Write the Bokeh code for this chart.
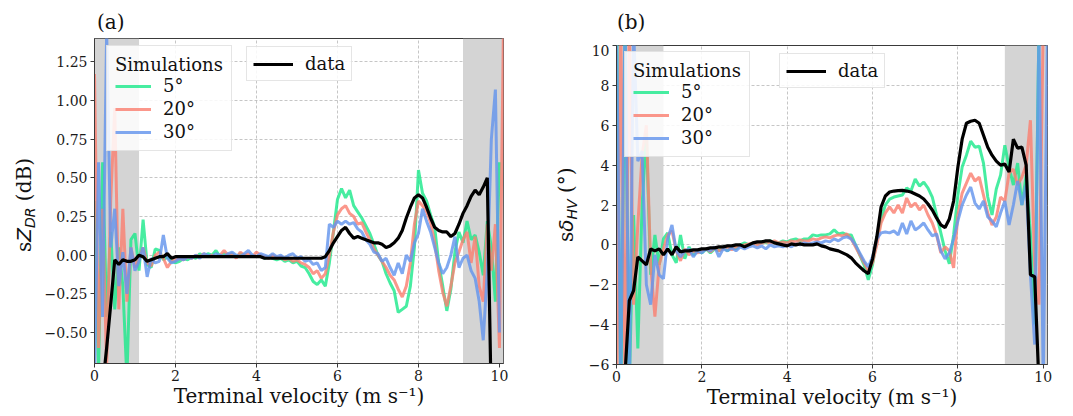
import numpy as np
from bokeh.plotting import figure
from bokeh.models import (BoxAnnotation, Legend, LegendItem, FixedTicker, Div,
                          CustomJSTickFormatter, Range1d, ColumnDataSource)
from bokeh.layouts import row, column
from bokeh.embed import file_html
from bokeh.resources import INLINE

nan = float("nan")

velocity = [
    0.0, 0.1, 0.2, 0.3, 0.4, 0.5, 0.6, 0.7, 0.8, 0.9,
    1.0, 1.1, 1.2, 1.3, 1.4, 1.5, 1.6, 1.7, 1.8, 1.9,
    2.0, 2.1, 2.2, 2.3, 2.4, 2.5, 2.6, 2.7, 2.8, 2.9,
    3.0, 3.1, 3.2, 3.3, 3.4, 3.5, 3.6, 3.7, 3.8, 3.9,
    4.0, 4.1, 4.2, 4.3, 4.4, 4.5, 4.6, 4.7, 4.8, 4.9,
    5.0, 5.1, 5.2, 5.3, 5.4, 5.5, 5.6, 5.7, 5.8, 5.9,
    6.0, 6.1, 6.2, 6.3, 6.4, 6.5, 6.6, 6.7, 6.8, 6.9,
    7.0, 7.1, 7.2, 7.3, 7.4, 7.5, 7.6, 7.7, 7.8, 7.9,
    8.0, 8.1, 8.2, 8.3, 8.4, 8.5, 8.6, 8.7, 8.8, 8.9,
    9.0, 9.1, 9.2, 9.3, 9.4, 9.5, 9.6, 9.7, 9.8, 9.9,
    10.0, 10.1]

# ---------------- panel (a): sZDR (dB) ----------------
zdr_data = [
    nan, nan, -0.85, -0.6, -0.32, -0.03, -0.06, -0.03, -0.04, -0.04,
    -0.03, 0.0, -0.01, -0.04, -0.03, -0.02, -0.01, -0.01, 0.01, -0.02,
    -0.01, -0.01, -0.01, -0.01, -0.01, -0.01, -0.01, -0.01, -0.01, -0.01,
    -0.01, -0.01, -0.01, -0.01, -0.01, -0.01, -0.01, -0.01, -0.01, -0.01,
    -0.01, -0.01, -0.02, -0.02, -0.02, -0.02, -0.02, -0.02, -0.02, -0.02,
    -0.02, -0.02, -0.02, -0.02, -0.02, -0.02, -0.02, -0.01, 0.03, 0.08,
    0.12, 0.16, 0.18, 0.14, 0.11, 0.12, 0.11, 0.10, 0.09, 0.08,
    0.08, 0.07, 0.05, 0.06, 0.08, 0.11, 0.16, 0.24, 0.31, 0.37,
    0.39, 0.37, 0.31, 0.24, 0.18, 0.16, 0.15, 0.15, 0.12, 0.14,
    0.20, 0.27, 0.32, 0.38, 0.42, 0.39, 0.44, 0.50, -1.0, nan,
    nan, nan]

zdr_5 = [
    0.35, -0.75, 0.6, -0.4, 0.15, -0.35, 0.05, -0.2, -0.8, 0.1,
    0.14, -0.1, 0.23, -0.06, -0.08, 0.04, 0.03, -0.03, -0.01, -0.04,
    -0.05, -0.04, -0.02, -0.03, -0.01, -0.02, 0.01, -0.01, 0.01, 0.0,
    0.03, -0.01, 0.01, 0.0, 0.01, -0.01, 0.01, 0.0, -0.01, 0.0,
    -0.01, 0.0, -0.02, -0.01, -0.02, -0.03, -0.02, -0.04, -0.03, -0.05,
    -0.04, -0.07, -0.08, -0.12, -0.17, -0.19, -0.16, -0.2, -0.05, 0.15,
    0.36, 0.43, 0.37, 0.42, 0.32, 0.28, 0.24, 0.19, 0.14, 0.07,
    0.0, -0.04, -0.12, -0.18, -0.23, -0.37, -0.35, -0.33, -0.2, 0.05,
    0.55, 0.4, 0.35, 0.26, 0.18, -0.05, -0.2, -0.36, -0.22, 0.02,
    0.15, 0.08, 0.22, 0.1, 0.13, 0.02, -0.13, 0.22, 0.05, -0.3,
    0.6, nan]

zdr_20 = [
    1.17, -0.6, 0.3, -0.72, 0.35, 0.95, -0.35, 0.3, -0.3, 0.05,
    -0.08, -0.02, 0.05, -0.05, -0.07, 0.0, 0.02, -0.02, -0.08, -0.04,
    -0.03, -0.02, -0.03, -0.01, -0.02, 0.0, -0.01, 0.01, -0.01, 0.0,
    -0.01, 0.0, 0.03, 0.0, 0.01, -0.02, 0.02, 0.0, 0.01, -0.01,
    0.02, 0.0, -0.01, -0.02, 0.0, -0.02, -0.01, -0.03, -0.02, -0.04,
    -0.03, -0.05, -0.06, -0.08, -0.12, -0.1, -0.15, -0.12, 0.0, 0.15,
    0.26, 0.3, 0.32, 0.27, 0.25, 0.2, 0.21, 0.15, 0.1, 0.04,
    0.0, -0.04, -0.08, -0.13, -0.16, -0.22, -0.27, -0.2, -0.05, 0.2,
    0.35, 0.32, 0.28, 0.21, 0.08, -0.1, -0.24, -0.33, -0.2, -0.05,
    0.02, 0.1, 0.15, -0.05, 0.12, -0.2, -0.3, 0.2, -0.1, 0.2,
    -0.6, 1.5]

zdr_30 = [
    -0.75, 0.6, -0.4, 1.45, 0.05, 0.3, -0.2, 0.02, -0.25, 0.05,
    -0.1, -0.04, 0.05, -0.14, -0.02, -0.05, -0.04, 0.13, -0.02, -0.05,
    -0.04, -0.02, -0.03, -0.01, -0.02, 0.0, -0.02, 0.01, 0.0, -0.01,
    0.01, 0.0, -0.01, 0.01, 0.02, 0.0, -0.01, 0.01, 0.03, 0.0,
    -0.01, 0.01, 0.0, -0.01, 0.01, -0.01, 0.0, -0.02, 0.0, 0.01,
    -0.02, -0.01, -0.04, -0.03, -0.06, -0.05, -0.1, -0.08, 0.2, 0.18,
    0.22, 0.2, 0.22, 0.2, 0.21, 0.17, 0.15, 0.1, 0.07, 0.02,
    0.01, -0.04, -0.02, -0.08, -0.13, -0.05, -0.12, 0.0, -0.04, 0.08,
    0.14, 0.3, 0.22, 0.15, 0.05, -0.05, -0.12, -0.08, 0.0, 0.12,
    -0.08, -0.02, 0.0, -0.1, -0.15, -0.3, -0.55, -0.1, 0.75, 1.07,
    -0.5, nan]

# ---------------- panel (b): s delta_HV (deg) ----------------
dhv_data = [
    nan, nan, -6.5, -2.8, -2.3, -0.6, -0.8, -1.0, -0.2, -0.3,
    -0.2, -0.5, -0.2, -0.5, -0.1, -0.35, -0.3, -0.3, -0.25, -0.25,
    -0.2, -0.2, -0.15, -0.15, -0.1, -0.1, -0.05, -0.05, 0.0, 0.0,
    -0.1, 0.0, 0.1, 0.15, 0.15, 0.2, 0.2, 0.1, 0.05, 0.0,
    -0.05, 0.05, 0.0, 0.05, 0.0, 0.0, 0.0, 0.05, -0.05, -0.1,
    -0.2, -0.25, -0.3, -0.4, -0.5, -0.65, -0.9, -1.1, -1.3, -1.45,
    -0.7, 0.4, 1.9, 2.45, 2.65, 2.7, 2.72, 2.73, 2.7, 2.65,
    2.55, 2.45, 2.3, 2.05, 1.75, 1.35, 1.0, 0.87, 1.3, 2.2,
    3.9, 5.3, 6.1, 6.2, 6.25, 6.1, 5.5, 4.9, 4.5, 4.2,
    4.0, 4.05, 3.65, 5.3, 4.85, 4.9, 4.0, -1.5, -1.6, -7.0,
    nan, nan]

dhv_5 = [
    12.0, -8.0, 11.0, -7.0, 1.5, -5.2, 2.0, 5.6, -1.5, 0.5,
    -1.0, 0.3, 0.6, -0.5, -0.9, 0.5, -0.7, -0.1, -0.5, -0.3,
    -0.4, -0.2, -0.4, -0.2, -0.3, -0.1, -0.3, -0.1, -0.2, 0.0,
    0.1, 0.0, 0.1, 0.05, 0.15, 0.1, 0.2, 0.15, 0.1, 0.2,
    0.15, 0.25, 0.3, 0.2, 0.3, 0.3, 0.5, 0.45, 0.5, 0.5,
    0.55, 0.75, 0.55, 0.6, 0.5, 0.5, 0.0, -0.5, -1.0, -1.75,
    -1.0, 0.3, 1.3, 2.0, 2.3, 2.4, 2.45, 2.5, 2.85, 2.7,
    3.3, 2.95, 3.15, 2.85, 2.4, 1.5, 0.6, -0.3, -0.95, 0.5,
    2.5, 3.9, 4.5, 5.2, 4.9, 4.95, 4.1, 2.4, 1.5, 2.8,
    3.5, 5.0, 3.9, 3.0, 4.1, 2.0, 3.5, 0.5, -4.0, 11.0,
    12.0, nan]

dhv_20 = [
    -8.0, 11.0, -7.0, 11.0, -3.0, 1.0, 4.5, 6.0, -1.0, -3.6,
    -1.0, -0.2, 0.5, 0.7, -0.3, -0.8, -0.2, -0.5, -0.3, -0.4,
    -0.3, -0.2, -0.35, -0.15, -0.3, -0.2, -0.1, -0.25, -0.1, -0.05,
    0.0, 0.05, 0.1, 0.0, 0.1, 0.15, 0.1, 0.2, 0.1, 0.15,
    0.1, 0.2, 0.15, 0.25, 0.2, 0.2, 0.3, 0.25, 0.35, 0.4,
    0.35, 0.45, 0.5, 0.45, 0.55, 0.3, -0.1, -0.5, -0.9, -1.3,
    -0.9, 0.0, 1.1, 1.6, 1.9, 1.6, 2.0, 1.6, 2.35, 1.9,
    2.1, 1.75, 2.0, 1.5, 1.1, 0.5, -0.4, -0.1, -0.3, -1.15,
    1.5, 2.6, 3.1, 3.6, 3.2, 3.4, 2.5, 1.6, 1.0, 1.4,
    2.4, 2.2, 3.6, 3.8, 3.0, 3.4, 4.0, 6.25, -1.0, -3.0,
    11.0, nan]

dhv_30 = [
    11.0, -7.0, 12.0, -8.0, 11.0, 4.2, 4.7, -2.0, -3.0, -0.5,
    -1.5, -1.7, 0.3, 1.0, -0.3, -0.6, -0.3, -0.2, -0.6, -0.3,
    -0.4, -0.2, -0.3, -0.1, -0.6, -0.2, -0.3, -0.15, -0.3, -0.1,
    -0.2, -0.1, -0.05, -0.15, -0.05, -0.2, 0.0, -0.1, -0.05, -0.1,
    0.0, -0.1, 0.05, 0.0, 0.1, 0.05, 0.1, 0.15, 0.1, 0.2,
    0.15, 0.3, 0.2, 0.35, 0.4, 0.3, 0.0, -0.4, -0.8, -1.1,
    -0.6, 0.3, 0.6, 0.65, 0.6, 0.7, 0.5, 1.1, 0.55, 1.2,
    0.75, 0.9, 1.1, 0.75, 0.45, 0.55, -0.3, -0.7, -0.4, 0.3,
    1.2, 2.0, 2.5, 2.9, 2.1, 1.8, 2.2, 1.4, 1.2, 0.9,
    1.6, 2.2, 1.0, 2.0, 3.2, 2.0, 3.0, -1.5, -5.0, 11.0,
    -7.0, 11.0]

sim_labels = ["5°", "20°", "30°"]
sim_colors = ["#1fe98c", "#FA8072", "#6495ED"]
x_ticks = [0, 2, 4, 6, 8, 10]
zdr_ticks = [-0.5, -0.25, 0.0, 0.25, 0.5, 0.75, 1.0, 1.25]
dhv_ticks = [-6, -4, -2, 0, 2, 4, 6, 8, 10]
shade_spans = [(0.0, 1.1), (9.1, 10.1)]

SERIF = "DejaVu Serif"
H = 415

BASE = ("position:relative; white-space:nowrap; font-family:'DejaVu Serif'; "
        "font-size:20px; line-height:20px; color:#111111; ")


def ylabel_div(width, left, top, main, sub, unit):
    html = ('<div style="' + BASE + 'left:%dpx; top:%dpx; width:0; height:20px; '
            'transform:rotate(-90deg); transform-origin:0 0;">s'
            '<i style="font-family:\'DejaVu Sans\'">%s</i>'
            '<sub style="font-family:\'DejaVu Sans\'; font-style:italic; '
            'font-size:14px; line-height:0; vertical-align:-4px;">%s</sub> %s</div>'
            % (left, top, main, sub, unit))
    return Div(text=html, width=width, height=H, margin=0)


def letter_div(width, height, left, top, text):
    html = ('<div style="' + BASE + 'left:%dpx; top:%dpx;">%s</div>'
            % (left, top, text))
    return Div(text=html, width=width, height=height, margin=0)


def make_panel(sims, data, yrange, yticks, decimals, width, height, borders,
               leg_sim_loc, leg_data_loc):
    bl, br, bb = borders
    p = figure(width=width, height=height, x_range=Range1d(0, 10.1),
               y_range=Range1d(*yrange), output_backend="svg", title=None,
               toolbar_location=None, min_border_left=bl, min_border_right=br,
               min_border_top=1, min_border_bottom=bb)
    p.outline_line_color = "#3a3a3a"
    p.outline_line_width = 1

    for g in (p.xgrid, p.ygrid):
        g.grid_line_color = "#b8b8b8"
        g.grid_line_dash = "3 2"
        g.grid_line_width = 0.8

    p.xaxis.ticker = FixedTicker(ticks=x_ticks)
    p.yaxis.ticker = FixedTicker(ticks=yticks)
    p.yaxis.formatter = CustomJSTickFormatter(
        args=dict(d=decimals),
        code="return (tick < 0 ? '\u2212' : '') + Math.abs(tick).toFixed(d);")
    p.xaxis.formatter = CustomJSTickFormatter(
        code="return (tick < 0 ? '\u2212' : '') + Math.abs(tick).toFixed(0);")
    for ax in (p.xaxis, p.yaxis):
        ax.axis_line_color = "#3a3a3a"
        ax.major_tick_line_color = "#3a3a3a"
        ax.major_tick_out = 4
        ax.major_tick_in = 0
        ax.minor_tick_line_color = None
        ax.major_label_text_font = SERIF
        ax.major_label_text_font_size = "14px"
        ax.major_label_text_color = "#1a1a1a"
        ax.major_label_standoff = 3
    p.xaxis.major_label_standoff = 2
    p.xaxis.axis_label = "Terminal velocity (m s\u207b\u00b9)"
    p.xaxis.axis_label_text_font = SERIF
    p.xaxis.axis_label_text_font_size = "20px"
    p.xaxis.axis_label_text_font_style = "normal"
    p.xaxis.axis_label_text_color = "#111111"
    p.xaxis.axis_label_standoff = 0

    for (l, r) in shade_spans:
        p.add_layout(BoxAnnotation(left=l, right=r, fill_color="#d4d4d4",
                                   fill_alpha=1.0, line_alpha=0, level="underlay"))

    renderers = []
    for vals, color in zip(sims, sim_colors):
        src = ColumnDataSource(dict(x=np.array(velocity, dtype=float),
                                    y=np.array(vals, dtype=float)))
        renderers.append(p.line("x", "y", source=src, line_color=color,
                                line_width=3, line_alpha=0.82))
    src = ColumnDataSource(dict(x=np.array(velocity, dtype=float),
                                y=np.array(data, dtype=float)))
    r_data = p.line("x", "y", source=src, line_color="black", line_width=3.2)

    common = dict(border_line_color="#cccccc", border_line_width=1,
                  background_fill_color="white", background_fill_alpha=0.85,
                  label_text_font=SERIF, label_text_font_size="18px",
                  label_text_color="#111111", label_standoff=12,
                  glyph_height=20, label_height=20, margin=0)
    leg1 = Legend(items=[LegendItem(label=lab, renderers=[r])
                         for lab, r in zip(sim_labels, renderers)],
                  location=leg_sim_loc, title="Simulations",
                  title_text_font=SERIF, title_text_font_size="18px",
                  title_text_font_style="normal", title_text_color="#111111",
                  title_standoff=0, glyph_width=36, padding=8, spacing=2,
                  **common)
    leg2 = Legend(items=[LegendItem(label="data", renderers=[r_data])],
                  location=leg_data_loc, glyph_width=40, padding=6, spacing=2,
                  **common)
    p.add_layout(leg1)
    p.add_layout(leg2)
    return p


ylab1 = ylabel_div(36, 14, 252, "Z", "DR", "(dB)")
top1 = letter_div(494, 37, 61, 12, "(a)")
p1 = make_panel([zdr_5, zdr_20, zdr_30], zdr_data, (-0.7, 1.4), zdr_ticks, 2,
                494, H - 37, (58, 27, 52), (12, 212), (152, 282))

ylab2 = ylabel_div(50, 26, 242, "\u03b4", "HV", "(\u00b0)")
top2 = letter_div(492, 44, 37, 12, "(b)")
p2 = make_panel([dhv_5, dhv_20, dhv_30], dhv_data, (-6, 10), dhv_ticks, 0,
                492, H - 44, (36, 25, 51), (8, 207), (163, 276))

layout = row(ylab1, column(top1, p1), ylab2, column(top2, p2))
open("out.html", "w").write(file_html(layout, INLINE))
